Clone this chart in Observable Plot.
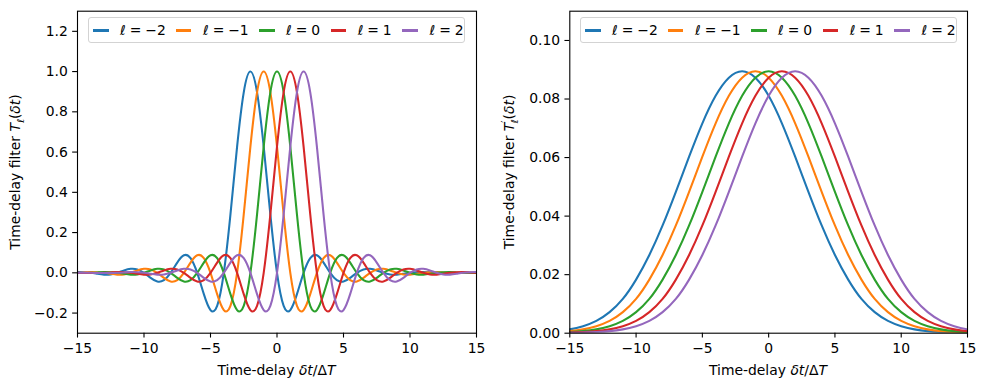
<!DOCTYPE html>
<html>
<head>
<meta charset="utf-8">
<script src="https://cdn.jsdelivr.net/npm/d3@7"></script>
<script src="https://cdn.jsdelivr.net/npm/@observablehq/plot@0.6"></script>
<style>
  body { margin: 0; background: #fff; }
  #fig { position: relative; width: 986px; height: 390px; font-family: "DejaVu Sans", sans-serif; color: #000; overflow: hidden; }
  .panel { position: absolute; top: 0; }
  .legend { position: absolute; top: 17.3px; width: 377.3px; height: 25.4px; border: 1px solid #d3d3d3; border-radius: 3px; background: rgba(255,255,255,0.8); box-sizing: border-box; }
  .sw { position: absolute; top: 11.2px; width: 15.4px; height: 2.1px; }
  .lt { position: absolute; top: 3.5px; font-size: 13.9px; line-height: 16px; white-space: nowrap; }
  .eq { margin: 0 0.28em; }
  .lab { position: absolute; font-size: 13.9px; white-space: nowrap; line-height: 16px; }
  .ylab { transform: translate(-50%, -50%) rotate(-90deg); }
  .xlab { transform: translate(-50%, -50%); }
  i { font-style: italic; }
</style>
</head>
<body>
<div id="fig"></div>
<script>
// ---- data ----
const ells = [-2, -1, 0, 1, 2];
const seriesLabels = ["\u2113 = \u22122", "\u2113 = \u22121", "\u2113 = 0", "\u2113 = 1", "\u2113 = 2"];
const colors = ["#1f77b4", "#ff7f0e", "#2ca02c", "#d62728", "#9467bd"];

// left panel: profile of T_ell for ell = 0, offsets in units of dt/DT
const leftOffsets = [-17, -16.5, -16, -15.5, -15, -14.5, -14, -13.5, -13, -12.5, -12, -11.5, -11, -10.5, -10, -9.5, -9, -8.5, -8, -7.5, -7, -6.5, -6, -5.5, -5, -4.5, -4, -3.5, -3, -2.5, -2, -1.5, -1, -0.5,
  0, 0.5, 1, 1.5, 2, 2.5, 3, 3.5, 4, 4.5, 5, 5.5, 6, 6.5, 7, 7.5, 8, 8.5, 9, 9.5, 10, 10.5, 11, 11.5, 12, 12.5, 13, 13.5, 14, 14.5, 15, 15.5, 16, 16.5, 17];
const leftProfile = [0.000, 0.000, 0.000, -0.001, -0.001, -0.001, 0.000, 0.002, 0.004, 0.003, 0.000, -0.005, -0.009, -0.008, 0.000, 0.012, 0.020, 0.017, 0.000, -0.025, -0.043, -0.036, 0.000, 0.051, 0.087, 0.073, 0.000, -0.106, -0.185, -0.164, 0.000, 0.290, 0.627, 0.897,
  1.000, 0.897, 0.627, 0.290, 0.000, -0.164, -0.185, -0.106, 0.000, 0.073, 0.087, 0.051, 0.000, -0.036, -0.043, -0.025, 0.000, 0.017, 0.020, 0.012, 0.000, -0.008, -0.009, -0.005, 0.000, 0.003, 0.004, 0.002, 0.000, -0.001, -0.001, -0.001, 0.000, 0.000, 0.000];

// right panel: profile of T'_ell for ell = 0
const rightOffsets = [-17, -16, -15, -14, -13, -12, -11, -10, -9, -8, -7, -6, -5, -4, -3, -2, -1, 0, 1, 2, 3, 4, 5, 6, 7, 8, 9, 10, 11, 12, 13, 14, 15, 16, 17];
const rightProfile = [0.0001, 0.0002, 0.0004, 0.0007, 0.0013, 0.0024, 0.0042, 0.0072, 0.0117, 0.0183, 0.0267, 0.0368, 0.0483, 0.0603, 0.0717, 0.0811, 0.0873, 0.0895,
  0.0873, 0.0811, 0.0717, 0.0603, 0.0483, 0.0368, 0.0267, 0.0183, 0.0117, 0.0072, 0.0042, 0.0024, 0.0013, 0.0007, 0.0004, 0.0002, 0.0001];

const xTicks = [-15, -10, -5, 0, 5, 10, 15];
const leftYTicks = [-0.2, 0.0, 0.2, 0.4, 0.6, 0.8, 1.0, 1.2];
const rightYTicks = [0.00, 0.02, 0.04, 0.06, 0.08, 0.10];

// ---- build tables ----
function table(offsets, profile) {
  const rows = [];
  ells.forEach((l, k) => {
    offsets.forEach((o, i) => rows.push({ x: o + l, y: profile[i], s: seriesLabels[k] }));
  });
  return rows;
}
const leftData = table(leftOffsets, leftProfile);
const rightData = table(rightOffsets, rightProfile);

function panel(data, yDomain, yTicks, yFmt, curve, margins) {
  return Plot.plot({
    width: 493, height: 390,
    marginTop: 10.7, marginBottom: 57.3, marginLeft: margins[0], marginRight: margins[1],
    style: { fontFamily: "DejaVu Sans, sans-serif", fontSize: "13.9px", color: "#000", background: "transparent" },
    x: { domain: [-15, 15] },
    y: { domain: yDomain },
    color: { domain: seriesLabels, range: colors },
    marks: [
      Plot.line(data, { x: "x", y: "y", z: "s", stroke: "s", strokeWidth: 2.08, curve: curve, clip: true }),
      Plot.frame({ stroke: "#000", strokeWidth: 1.1 }),
      Plot.axisX({ ticks: xTicks, tickSize: 4.86, tickPadding: 4.86, tickFormat: d3.format("d"), label: null, strokeWidth: 1.1 }),
      Plot.axisY({ ticks: yTicks, tickSize: 4.86, tickPadding: 4.86, tickFormat: d3.format(yFmt), label: null, strokeWidth: 1.1 })
    ]
  });
}

const fig = document.getElementById("fig");
const left = panel(leftData, [-0.3, 1.3], leftYTicks, ".1f", "natural", [77, 17]);
left.classList.add("panel"); left.style.left = "0px";
fig.appendChild(left);
const right = panel(rightData, [0, 0.11], rightYTicks, ".2f", "natural", [76.3, 19]);
right.classList.add("panel"); right.style.left = "493px";
fig.appendChild(right);

// legends
const swX = [4.6, 87.3, 170.6, 242.1, 313.5];
const txX = [31.4, 114.3, 197.3, 269, 340.8];
function legend(leftPx) {
  const lg = document.createElement("div");
  lg.className = "legend";
  lg.style.left = leftPx + "px";
  seriesLabels.forEach((lab, k) => {
    const sw = document.createElement("div");
    sw.className = "sw"; sw.style.left = swX[k] + "px"; sw.style.background = colors[k];
    lg.appendChild(sw);
    const t = document.createElement("div");
    t.className = "lt"; t.style.left = txX[k] + "px";
    const parts = lab.split(" = ");
    t.innerHTML = "<i>" + parts[0] + "</i><span class=\"eq\">=</span>" + parts[1];
    lg.appendChild(t);
  });
  fig.appendChild(lg);
}
legend(87.7);
legend(579.7);

// axis labels
function label(html, x, y, cls) {
  const d = document.createElement("div");
  d.className = "lab " + cls;
  d.style.left = x + "px"; d.style.top = y + "px";
  d.innerHTML = html;
  fig.appendChild(d);
}
label("Time-delay <i>\u03b4t</i>/\u0394<i>T</i>", 276.5, 370, "xlab");
label("Time-delay <i>\u03b4t</i>/\u0394<i>T</i>", 768, 370, "xlab");
label("Time-delay filter <i>T</i><sub style=\"font-size:9.7px\"><i>\u2113</i></sub>(<i>\u03b4t</i>)", 18.3, 172, "ylab");
label("Time-delay filter <i>T</i><sup style=\"font-size:9.7px;vertical-align:0.5em\">\u2032</sup><sub style=\"font-size:9.7px;margin-left:-3px\"><i>\u2113</i></sub>(<i>\u03b4t</i>)", 510.3, 172, "ylab");
</script>
</body>
</html>
